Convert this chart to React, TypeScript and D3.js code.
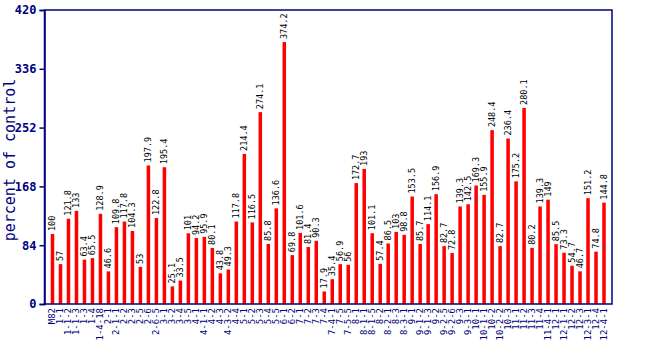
import React, { useEffect, useRef } from 'react';
import * as d3 from 'd3';

// Lines (x axis) and their values, percent of control
const lines = [
  'M82',
  '1-1', '1-1-2', '1-1-3', '1-3', '1-4', '1-4-18',
  '2-1', '2-1-1', '2-2', '2-3', '2-5', '2-6', '2-6-5',
  '3-1', '3-2', '3-4', '3-5',
  '4-1', '4-1-1', '4-2', '4-3', '4-3-2', '4-4',
  '5-1', '5-2', '5-3', '5-4', '5-5', '6-1', '6-2',
  '7-1', '7-2', '7-3', '7-4', '7-4-1', '7-5', '7-5-5',
  '8-1', '8-1-1', '8-1-5', '8-2', '8-2-1', '8-3', '8-3-1',
  '9-1', '9-1-2', '9-1-3', '9-2', '9-2-5', '9-2-6', '9-3', '9-3-1',
  '10-1', '10-1-1', '10-2', '10-2-2', '10-3',
  '11-1', '11-2', '11-3', '11-4', '11-4-1',
  '12-1', '12-1-1', '12-2', '12-3', '12-3-1', '12-4', '12-4-1',
];

const values = [
  100,
  57, 121.8, 133, 63.4, 65.5, 128.9,
  46.6, 109.8, 117.8, 104.3, 53, 197.9, 122.8,
  195.4, 25.1, 33.5, 101,
  94.2, 95.9, 80.1, 43.8, 49.3, 117.8,
  214.4, 116.5, 274.1, 85.8, 136.6, 374.2, 69.8,
  101.6, 81.4, 90.3, 17.9, 35.4, 56.9, 56,
  172.7, 193, 101.1, 57.4, 86.5, 103, 98.8,
  153.5, 85.7, 114.1, 156.9, 82.7, 72.8, 139.3, 142.5,
  169.3, 155.9, 248.4, 82.7, 236.4,
  175.2, 280.1, 80.2, 139.3, 149,
  85.5, 73.3, 54.7, 46.7, 151.2, 74.8, 144.8,
];

const yTicks = [0, 84, 168, 252, 336, 420];

const App = () => {
  const chartRef = useRef<SVGSVGElement>(null);

  useEffect(() => {
    const width = 650;
    const height = 350;
    const left = 44.5, right = 612, top = 10, bottom = 304;
    const navy = '#000080';
    const mono = '"DejaVu Sans Mono", monospace';

    const svg = d3.select(chartRef.current)
      .attr('width', width)
      .attr('height', height);
    svg.selectAll('*').remove();

    const x = d3.scaleLinear().domain([0, values.length + 1]).range([left, right]);
    const y = d3.scaleLinear().domain([0, 420]).range([bottom, top]);

    svg.append('rect')
      .attr('width', width).attr('height', height).attr('fill', 'white');

    // bars
    svg.selectAll('rect.bar')
      .data(values)
      .enter()
      .append('rect')
      .attr('class', 'bar')
      .attr('x', (d, i) => x(i + 1) - 1.75)
      .attr('y', d => y(d))
      .attr('width', 3.5)
      .attr('height', d => bottom - y(d))
      .attr('fill', '#ff0000');

    // value labels
    svg.selectAll('text.val')
      .data(values)
      .enter()
      .append('text')
      .attr('class', 'val')
      .attr('transform', (d, i) => `translate(${x(i + 1) + 3},${y(d) - 3}) rotate(-90)`)
      .attr('font-family', mono)
      .attr('font-size', 8.5)
      .attr('fill', 'black')
      .text(d => String(d));

    // frame
    svg.append('rect')
      .attr('x', left).attr('y', top)
      .attr('width', right - left).attr('height', bottom - top)
      .attr('fill', 'none').attr('stroke', navy).attr('stroke-width', 1.5);

    // y axis
    const yAxis = svg.append('g')
      .attr('transform', `translate(${left},0)`)
      .call(d3.axisLeft(y).tickValues(yTicks).tickSize(5).tickPadding(3));
    yAxis.select('.domain').attr('stroke', navy).attr('stroke-width', 1.5);
    yAxis.selectAll('line').attr('stroke', navy).attr('stroke-width', 1.5);
    yAxis.selectAll('text')
      .attr('fill', navy)
      .attr('font-family', mono)
      .attr('font-weight', 'bold')
      .attr('font-size', 12);

    // x labels
    svg.selectAll('text.xl')
      .data(lines)
      .enter()
      .append('text')
      .attr('class', 'xl')
      .attr('transform', (d, i) => `translate(${x(i + 1) + 3},${bottom + 4}) rotate(-90)`)
      .attr('text-anchor', 'end')
      .attr('font-family', mono)
      .attr('font-size', 9)
      .attr('fill', navy)
      .text(d => d);

    // y title
    svg.append('text')
      .attr('transform', `translate(15,${(top + bottom) / 2 + 3}) rotate(-90)`)
      .attr('text-anchor', 'middle')
      .attr('font-family', mono)
      .attr('font-size', 15)
      .attr('fill', navy)
      .text('percent of control');

    return () => {
      d3.select(chartRef.current).selectAll('*').remove();
    };
  }, []);

  return <svg ref={chartRef} style={{ position: 'absolute', left: 0, top: 0 }}></svg>;
};

export default App;
